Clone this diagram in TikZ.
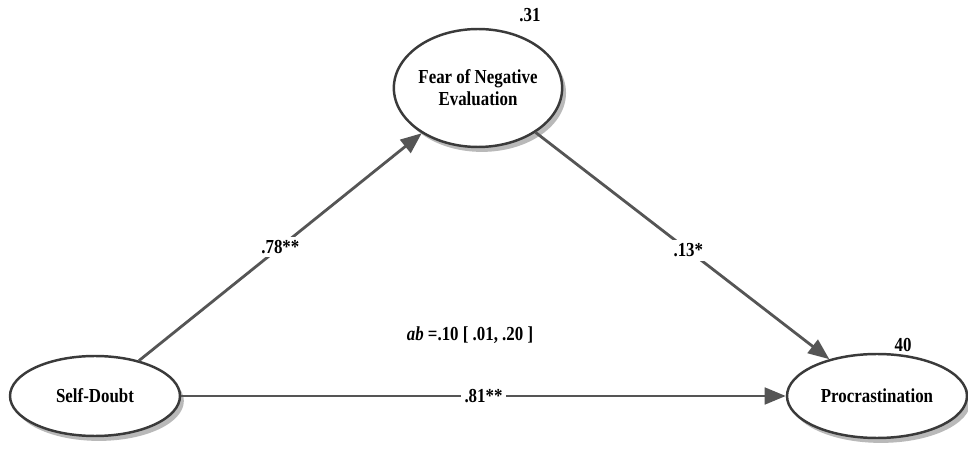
\documentclass[tikz,border=0pt]{standalone}
\usepackage{fontspec}
\setmainfont{Liberation Serif}[FakeStretch=0.85]
\usepackage{tikz}
\usetikzlibrary{arrows.meta,shapes.geometric,shadows}

\definecolor{pathgray}{HTML}{555555}
\definecolor{rimgray}{HTML}{3A3A3A}

\begin{document}
\begin{tikzpicture}[
    x=0.02cm, y=-0.02cm,
    latent/.style={
        ellipse, draw=rimgray, line width=1.4pt, fill=white,
        inner sep=0pt, align=center,
        font=\fontsize{11.3}{12.5}\selectfont\bfseries,
        drop shadow={shadow xshift=2.2pt, shadow yshift=-2.8pt, fill=gray!55, opacity=1}
    },
    coef/.style={fill=white, inner sep=2pt, font=\fontsize{11.3}{12.5}\selectfont\bfseries},
    rsq/.style={font=\fontsize{11.3}{12.5}\selectfont\bfseries},
    arr/.style={-{Triangle[length=12pt, width=9.5pt]}, line width=1.6pt, draw=pathgray, fill=pathgray}
]
\useasboundingbox (0,0) rectangle (968,449);
\node[latent, minimum width=3.36cm, minimum height=2.36cm] (fne) at (478,88) {Fear of Negative\\Evaluation};
\node[latent, minimum width=3.4cm, minimum height=1.6cm] (sd) at (95,396) {Self-Doubt};
\node[latent, minimum width=3.6cm, minimum height=1.68cm] (proc) at (877,396) {Procrastination};
\node[rsq] (r2fne) at (530,15) {.31};
\node[rsq] (r2proc) at (903,345) {40};
\node[rsq] (ind) at (470,335) {\textit{ab} =.10 [ .01, .20 ]};
\draw[arr] (sd) -- (fne) node[coef, pos=0.5] {.78**};
\draw[arr] (fne) -- (proc) node[coef, pos=0.52] {.13*};
\draw[arr] (sd) -- (proc) node[coef, pos=0.5] {.81**};
\end{tikzpicture}
\end{document}
